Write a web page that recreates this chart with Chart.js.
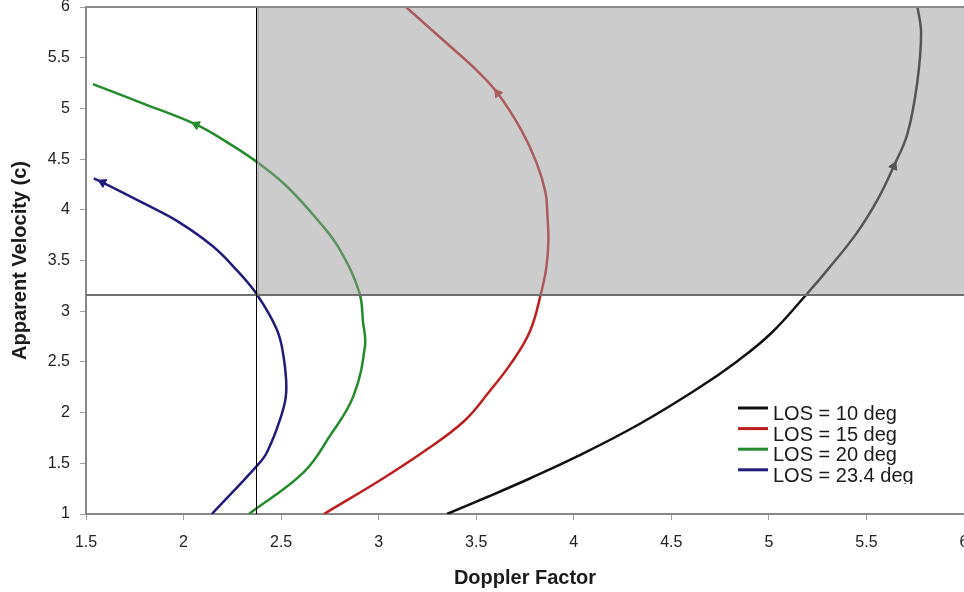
<!DOCTYPE html>
<html>
<head>
<meta charset="utf-8">
<script src="https://cdn.jsdelivr.net/npm/chart.js@4"></script>
<style>
  html, body { margin: 0; padding: 0; background: #fff; }
  #wrap { width: 964px; height: 592px; }
</style>
</head>
<body>
<div id="wrap"><canvas id="myChart" width="964" height="592"></canvas></div>
<script>
(function(){
  'use strict';

  // values, bottom of each curve first
  const los10Doppler  = [3.35, 3.56, 3.78, 4.02, 4.33, 4.63, 4.84, 5.01, 5.19, 5.31, 5.45, 5.56, 5.64, 5.71, 5.76, 5.78, 5.76];
  const los10Velocity = [1.00, 1.17, 1.355, 1.57, 1.88, 2.23, 2.51, 2.78, 3.16, 3.43, 3.77, 4.11, 4.43, 4.75, 5.25, 5.74, 6.02];
  const los15Doppler  = [2.72, 3.03, 3.25, 3.44, 3.56, 3.68, 3.775, 3.83, 3.86, 3.87, 3.865, 3.855, 3.81, 3.73, 3.61, 3.50, 3.35, 3.14];
  const los15Velocity = [1.00, 1.36, 1.64, 1.92, 2.19, 2.49, 2.80, 3.16, 3.44, 3.70, 3.94, 4.17, 4.46, 4.79, 5.15, 5.38, 5.64, 6.00];
  const los20Doppler  = [2.335, 2.615, 2.75, 2.87, 2.93, 2.92, 2.90, 2.80, 2.70, 2.53, 2.37, 2.22, 2.065, 1.79, 1.535];
  const los20Velocity = [1.00, 1.41, 1.77, 2.16, 2.66, 2.89, 3.19, 3.61, 3.87, 4.23, 4.48, 4.67, 4.84, 5.05, 5.24];
  const los234Doppler  = [2.145, 2.376, 2.427, 2.495, 2.526, 2.512, 2.478, 2.376, 2.27, 2.15, 1.98, 1.81, 1.585, 1.54];
  const los234Velocity = [1.00, 1.475, 1.607, 1.935, 2.198, 2.56, 2.82, 3.165, 3.41, 3.64, 3.874, 4.05, 4.27, 4.31];

  const seriesLabels = ['LOS = 10 deg', 'LOS = 15 deg', 'LOS = 20 deg', 'LOS = 23.4 deg'];
  const seriesColors = ['#111111', '#bb1f1f', '#248a2c', '#221c78'];
  const arrowIndex = [12, 14, 12, 12];

  // shaded corner: doppler above / velocity above
  const cutDoppler = 2.375;
  const cutVelocity = 3.16;

  const fontFamily = "'Liberation Sans', Arial, sans-serif";

  function zip(xs, ys){
    return xs.map((x, i) => ({x: x, y: ys[i]}));
  }

  function arrowRotation(ctx){
    const pts = ctx.dataset.data;
    const i = ctx.dataIndex;
    const a = pts[Math.max(i - 1, 0)];
    const b = pts[Math.min(i + 1, pts.length - 1)];
    const sx = ctx.chart.scales.x, sy = ctx.chart.scales.y;
    const dx = sx.getPixelForValue(b.x) - sx.getPixelForValue(a.x);
    const dy = sy.getPixelForValue(b.y) - sy.getPixelForValue(a.y);
    return Math.atan2(dx, -dy) * 180 / Math.PI;
  }

  const allData = [
    zip(los10Doppler, los10Velocity),
    zip(los15Doppler, los15Velocity),
    zip(los20Doppler, los20Velocity),
    zip(los234Doppler, los234Velocity)
  ];

  const datasets = allData.map((d, k) => ({
    label: seriesLabels[k],
    data: d,
    showLine: true,
    borderColor: seriesColors[k],
    backgroundColor: seriesColors[k],
    borderWidth: 2.5,
    tension: 0.4,
    pointStyle: 'triangle',
    pointRadius: (ctx) => ctx.dataIndex === arrowIndex[k] ? 5 : 0,
    pointHoverRadius: 0,
    pointBorderWidth: 1,
    pointRotation: arrowRotation
  }));

  const overlayPlugin = {
    id: 'overlay',
    afterDatasetsDraw(chart){
      const {ctx, chartArea} = chart;
      const sx = chart.scales.x, sy = chart.scales.y;
      const x0 = sx.getPixelForValue(cutDoppler);
      const y0 = sy.getPixelForValue(cutVelocity);
      ctx.save();
      ctx.fillStyle = 'rgba(153,153,153,0.5)';
      ctx.fillRect(x0, chartArea.top, chartArea.right - x0, y0 - chartArea.top);
      ctx.strokeStyle = '#a0a0a0';
      ctx.lineWidth = 1;
      ctx.beginPath();
      ctx.moveTo(x0 + 1.5, chartArea.top);
      ctx.lineTo(x0 + 1.5, y0);
      ctx.stroke();

      ctx.strokeStyle = '#6e6e6e';
      ctx.lineWidth = 2;
      ctx.beginPath();
      ctx.moveTo(chartArea.left, y0);
      ctx.lineTo(chartArea.right, y0);
      ctx.stroke();

      ctx.strokeStyle = '#000';
      ctx.lineWidth = 1;
      ctx.beginPath();
      ctx.moveTo(Math.round(x0) - 0.5, chartArea.top);
      ctx.lineTo(Math.round(x0) - 0.5, chartArea.bottom);
      ctx.stroke();

      ctx.strokeStyle = '#8a8a8a';
      ctx.lineWidth = 2;
      ctx.beginPath();
      ctx.moveTo(chartArea.left, chartArea.top);
      ctx.lineTo(chartArea.right, chartArea.top);
      ctx.stroke();
      ctx.restore();
    },
    afterDraw(chart){
      const ctx = chart.ctx;
      ctx.save();
      ctx.beginPath();
      ctx.rect(730, 395, 200, 89);
      ctx.clip();
      ctx.font = '20px ' + fontFamily;
      ctx.textBaseline = 'alphabetic';
      ctx.textAlign = 'left';
      for (let i = 0; i < seriesLabels.length; i++){
        const y = 408 + i * 20.6;
        ctx.strokeStyle = seriesColors[i];
        ctx.lineWidth = 3;
        ctx.beginPath();
        ctx.moveTo(738, y);
        ctx.lineTo(768, y);
        ctx.stroke();
        ctx.fillStyle = '#1a1a1a';
        ctx.fillText(seriesLabels[i], 773, y + 12);
      }
      ctx.restore();
    }
  };

  const tickLabel = (v) => String(Math.round(v * 10) / 10);

  const ctx = document.getElementById('myChart').getContext('2d');
  new Chart(ctx, {
    type: 'scatter',
    data: { datasets: datasets },
    plugins: [overlayPlugin],
    options: {
      responsive: false,
      animation: false,
      events: [],
      layout: { padding: { top: 7, right: 0, bottom: 0, left: 0 } },
      plugins: {
        legend: { display: false },
        tooltip: { enabled: false }
      },
      scales: {
        x: {
          type: 'linear',
          min: 1.5,
          max: 6,
          afterFit(scale){
            scale.height = 78;
            scale.paddingLeft = 0;
            scale.paddingRight = 0;
          },
          ticks: {
            stepSize: 0.5,
            padding: 13,
            color: '#222',
            maxRotation: 0,
            callback: tickLabel,
            font: { family: fontFamily, size: 16 }
          },
          grid: { drawOnChartArea: false, drawTicks: true, tickLength: 6, color: '#a0a0a0' },
          border: { display: true, color: '#888', width: 2 },
          title: {
            display: true,
            text: 'Doppler Factor',
            color: '#1a1a1a',
            padding: { top: 0, bottom: 2 },
            font: { family: fontFamily, size: 20, weight: 'bold' }
          }
        },
        y: {
          type: 'linear',
          min: 1,
          max: 6,
          afterFit(scale){
            scale.width = 86;
            scale.paddingTop = 0;
            scale.paddingBottom = 0;
          },
          ticks: {
            stepSize: 0.5,
            padding: 10,
            color: '#222',
            callback: tickLabel,
            font: { family: fontFamily, size: 16 }
          },
          grid: { drawOnChartArea: false, drawTicks: true, tickLength: 6, color: '#a0a0a0' },
          border: { display: true, color: '#888', width: 2 },
          title: {
            display: true,
            text: 'Apparent Velocity (c)',
            color: '#1a1a1a',
            padding: { top: 8, bottom: 0 },
            font: { family: fontFamily, size: 20, weight: 'bold' }
          }
        }
      }
    }
  });
})();
</script>
</body>
</html>
